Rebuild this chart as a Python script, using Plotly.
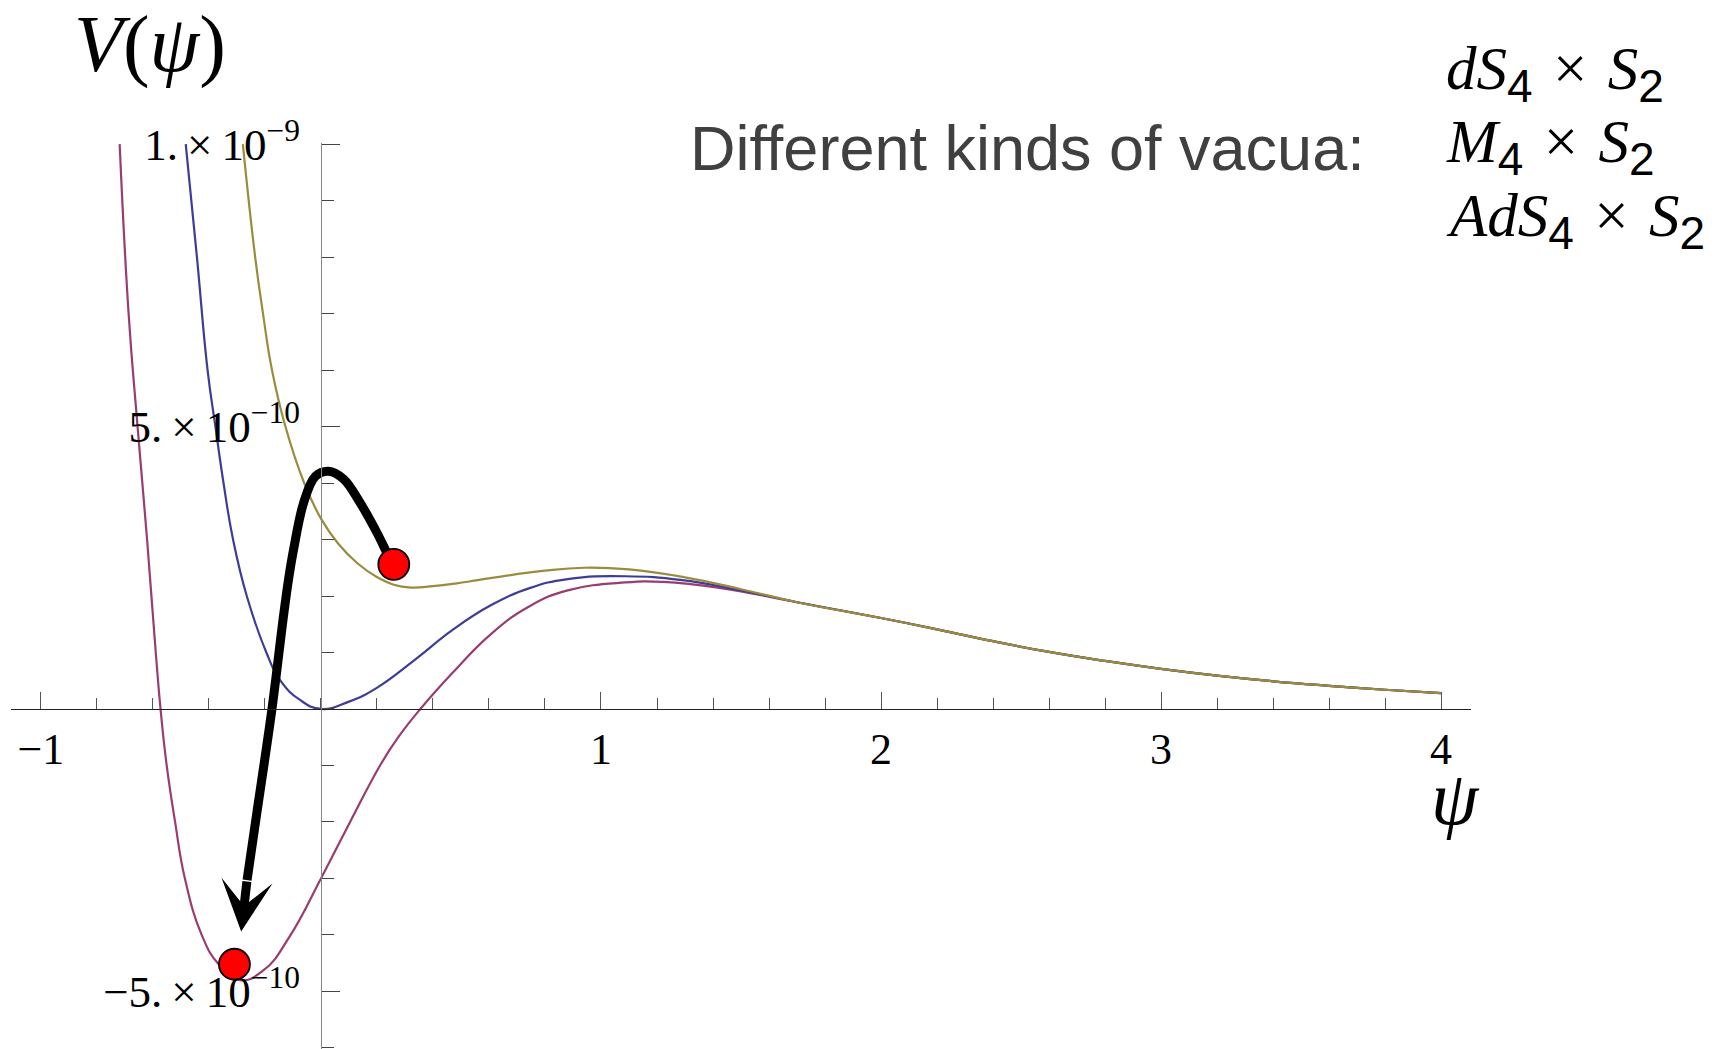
import numpy as np
import plotly.graph_objects as go

UNIT = 1e-10  # potential values below are given in units of 1e-10

# shared large-psi tail of all three potentials
psi_tail = [1.7, 2.0, 2.2, 2.4, 2.6, 2.8, 3.0, 3.2, 3.4, 3.6, 3.8, 4.0]
v_tail = [1.89, 1.61, 1.41, 1.20, 1.01, 0.85, 0.71, 0.59, 0.49, 0.41, 0.34, 0.28]

# dS4 x S2 (olive)
psi_ds = [-0.279, -0.235, -0.207, -0.175, -0.127, -0.06, 0.0, 0.061, 0.13, 0.198,
          0.26, 0.321, 0.40, 0.48, 0.56, 0.676, 0.80, 0.94, 1.1, 1.3, 1.5]
v_ds = [10.0, 8.0, 7.0, 6.0, 5.0, 4.0, 3.37, 2.93, 2.58, 2.34,
        2.2, 2.15, 2.175, 2.22, 2.28, 2.37, 2.45, 2.50, 2.47, 2.33, 2.12]

# M4 x S2 (blue)
psi_m = [-0.483, -0.443, -0.405, -0.377, -0.348, -0.314, -0.265, -0.195, -0.146, -0.075,
         0.0, 0.1, 0.198, 0.335, 0.47, 0.608, 0.745, 0.881, 1.087, 1.29, 1.5]
v_m = [10.0, 8.0, 6.0, 5.0, 4.0, 3.0, 2.0, 1.0, 0.51, 0.16,
       0.0, 0.13, 0.37, 0.87, 1.40, 1.84, 2.14, 2.30, 2.35, 2.28, 2.10]

# AdS4 x S2 (magenta)
psi_ads = [-0.719, -0.687, -0.655, -0.621, -0.59, -0.573, -0.551, -0.521, -0.486, -0.426,
           -0.367, -0.29, -0.206, -0.111, 0.0, 0.104, 0.211, 0.276, 0.355, 0.47,
           0.608, 0.745, 0.881, 1.087, 1.223, 1.428]
v_ads = [10.0, 7.0, 5.0, 3.0, 1.0, 0.0, -1.0, -2.0, -3.0, -4.0,
         -4.51, -4.8, -4.63, -4.02, -3.0, -2.0, -1.0, -0.5, 0.0, 0.64,
         1.33, 1.82, 2.10, 2.24, 2.25, 2.14]

# tunnelling path from the dS vacuum over the barrier into the AdS vacuum
psi_path = [0.26, 0.2475, 0.2, 0.14, 0.081, 0.027, -0.02, -0.062, -0.098, -0.116,
            -0.134, -0.175, -0.229, -0.264]
v_path = [2.56, 2.65, 3.12, 3.65, 4.07, 4.21, 4.12, 3.65, 2.82, 2.29,
          1.64, 0.0, -1.84, -3.03]
psi_tip, v_tip = -0.285, -3.94

# occupied vacua
psi_dots = [0.26, -0.309]
v_dots = [2.56, -4.52]

# axis ticks
x_major = [-1, 1, 2, 3, 4]
x_major_text = ["\u22121", "1", "2", "3", "4"]
y_major = [-5, 5, 10]
y_major_text = ["\u22125.\u2009\u00d7\u200910<sup>\u221210</sup>",
                "5.\u2009\u00d7\u200910<sup>\u221210</sup>",
                "1.\u2009\u00d7\u200910<sup>\u22129</sup>"]

COL_DS = "#998C3D"
COL_M = "#3D3D99"
COL_ADS = "#993D70"

X_RANGE = [-1.107, 4.107]
Y_RANGE = [-6.02, 10.02]

W, H = 1724, 1049
ML, MR, MT, MB = 11, 253, 143, 0
PW, PH = W - ML - MR, H - MT - MB


def paper_x(px):
    return (px - ML) / PW


def paper_y(py):
    return (H - MB - py) / PH


def scaled(vals):
    return [v * UNIT for v in vals]


fig = go.Figure()

for xs, ys, col in [(psi_ads, v_ads, COL_ADS), (psi_m, v_m, COL_M), (psi_ds, v_ds, COL_DS)]:
    fig.add_trace(go.Scatter(
        x=list(xs) + psi_tail, y=scaled(list(ys) + v_tail), mode="lines",
        line=dict(color=col, width=2.2, shape="spline", smoothing=1.3),
        hoverinfo="skip"))

fig.add_trace(go.Scatter(
    x=psi_path, y=scaled(v_path), mode="lines",
    line=dict(color="black", width=9, shape="spline", smoothing=1.0),
    hoverinfo="skip"))

fig.add_annotation(
    x=psi_tip, y=v_tip * UNIT, ax=psi_path[-1], ay=v_path[-1] * UNIT,
    xref="x", yref="y", axref="x", ayref="y", text="", showarrow=True,
    arrowhead=3, arrowwidth=9, arrowsize=0.95, arrowcolor="black")

fig.add_trace(go.Scatter(
    x=psi_dots, y=scaled(v_dots), mode="markers",
    marker=dict(size=31, color="#FF0000", line=dict(color="black", width=1.8)),
    hoverinfo="skip"))

x0_pos = (0 - Y_RANGE[0]) / (Y_RANGE[1] - Y_RANGE[0])
y0_pos = (0 - X_RANGE[0]) / (X_RANGE[1] - X_RANGE[0])

serif = "Liberation Serif"

fig.update_layout(
    width=W, height=H, margin=dict(l=ML, r=MR, t=MT, b=MB),
    plot_bgcolor="white", paper_bgcolor="white", showlegend=False,
    xaxis=dict(
        range=X_RANGE, showgrid=False, zeroline=False, showline=True,
        linecolor="#222222", linewidth=1, anchor="free", position=x0_pos,
        ticks="inside", ticklen=17, tickwidth=1, tickcolor="#555555",
        tickmode="array", tickvals=x_major, ticktext=x_major_text,
        tickfont=dict(family=serif, size=44, color="black"),
        ticklabelstandoff=1,
        minor=dict(ticks="inside", ticklen=11, tickwidth=1, tickcolor="#555555",
                   tickmode="array",
                   tickvals=[round(v, 1) for v in np.arange(-1.0, 4.01, 0.2)]),
    ),
    yaxis=dict(
        range=[r * UNIT for r in Y_RANGE], showgrid=False, zeroline=False, showline=True,
        linecolor="#888888", linewidth=1, anchor="free", position=y0_pos,
        ticks="inside", ticklen=18, tickwidth=1, tickcolor="#444444",
        tickmode="array", tickvals=scaled(y_major), ticktext=y_major_text,
        tickfont=dict(family=serif, size=45, color="black"),
        ticklabelstandoff=12,
        minor=dict(ticks="inside", ticklen=12, tickwidth=1, tickcolor="#444444",
                   tickmode="array", tickvals=scaled(list(range(-6, 11)))),
    ),
)

# axis labels
fig.add_annotation(text="<i>V</i>(<i>\u03c8</i>)", xref="paper", yref="paper",
                   x=paper_x(150), y=paper_y(45), showarrow=False,
                   xanchor="center", yanchor="middle",
                   font=dict(family=serif, size=80, color="black"))
fig.add_annotation(text="<i>\u03c8</i>", xref="paper", yref="paper",
                   x=paper_x(1455), y=paper_y(798), showarrow=False,
                   xanchor="center", yanchor="middle",
                   font=dict(family=serif, size=76, color="black"))

# heading and list of vacua
fig.add_annotation(text="Different kinds of vacua:", xref="paper", yref="paper",
                   x=paper_x(688), y=paper_y(148), showarrow=False,
                   xanchor="left", yanchor="middle",
                   font=dict(family="Liberation Sans", size=63, color="#404040"))

sub = "<sub><span style='font-family:Liberation Sans;font-size:46px'>{}</span></sub>"
times = "\u2004\u00d7\u2004"
vacua = [
    ("<i>dS</i>" + sub.format("4") + times + "<i>S</i>" + sub.format("2"), 73),
    ("<i>M</i>" + sub.format("4") + times + "<i>S</i>" + sub.format("2"), 146),
    ("<i>AdS</i>" + sub.format("4") + times + "<i>S</i>" + sub.format("2"), 220),
]
for txt, py in vacua:
    fig.add_annotation(text=txt, xref="paper", yref="paper",
                       x=paper_x(1444), y=paper_y(py), showarrow=False,
                       xanchor="left", yanchor="middle",
                       font=dict(family=serif, size=61, color="black"))

fig.write_html("out.html")
